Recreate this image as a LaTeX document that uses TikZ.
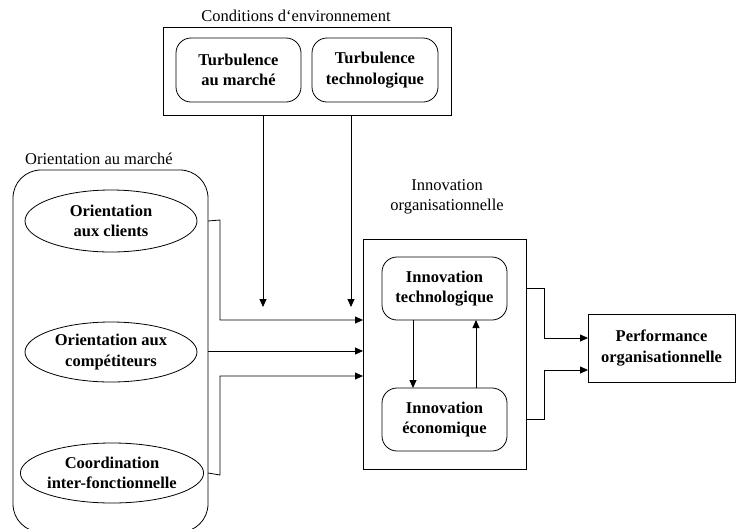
\documentclass[tikz,border=0pt]{standalone}
\usepackage{fontspec}
\setmainfont{Liberation Serif}
\usetikzlibrary{arrows.meta,shapes.geometric}
\begin{document}
\begin{tikzpicture}[x=1pt,y=-1pt,
  line width=0.8pt,
  every node/.style={inner sep=0pt, outer sep=0pt},
  txt/.style={font=\fontsize{16.5}{20}\selectfont, align=center},
  bld/.style={font=\fontsize{16.5}{20.5}\selectfont\bfseries, align=center},
  frame/.style={draw, rectangle},
  rbox/.style={draw, rectangle, rounded corners=15pt, bld},
  oval/.style={draw, ellipse, bld},
  arr/.style={-{Triangle[length=8pt,width=7pt]}}
]
\useasboundingbox (0,0) rectangle (736,528);

% environment conditions
\node[frame, minimum width=288, minimum height=88] (env) at (307,71) {};
\node[txt, anchor=base] (envlbl) at (296,21) {Conditions d‘environnement};
\node[rbox, minimum width=125, minimum height=64] (tm) at (238.5,70) {Turbulence\\au marché};
\node[rbox, minimum width=126, minimum height=64] (tt) at (375,70) {Turbulence\\technologique};

% market orientation
\node[draw, rectangle, rounded corners=28pt, minimum width=195, minimum height=362] (mkt) at (110.5,351) {};
\node[txt, anchor=base] (mktlbl) at (99,164) {Orientation au marché};
\node[oval, minimum width=172, minimum height=62] (oc) at (111,221) {Orientation\\aux clients};
\node[oval, minimum width=172, minimum height=60] (ocomp) at (111,352) {Orientation aux\\compétiteurs};
\node[oval, minimum width=170, minimum height=60] (coord) at (112,473) {Coordination\\inter-fonctionnelle};

% organisational innovation
\node[frame, minimum width=163, minimum height=230] (inno) at (444.5,354) {};
\node[txt, anchor=base] (innolbl) at (447,210) {Innovation\\organisationnelle};
\node[rbox, minimum width=125, minimum height=63] (it) at (444.5,288.5) {Innovation\\technologique};
\node[rbox, minimum width=125, minimum height=63] (ie) at (444.5,419.5) {Innovation\\économique};

% performance
\node[frame, bld, minimum width=147, minimum height=68] (perf) at (661.5,348) {Performance\\organisationnelle};

% free ends of the moderator arrows
\coordinate (m1) at (263,307);
\coordinate (m2) at (351,307);
\draw[arr] (env.south -| m1) -- (m1);
\draw[arr] (env.south -| m2) -- (m2);

% market orientation to innovation
\draw[arr] (mkt.east |- oc) -- (220,220) |- (inno.west |- 0,320);
\draw[arr] (mkt.east |- 0,351) -- (inno.west |- 0,351);
\draw[arr] (mkt.east |- coord) -- (220,475) |- (inno.west |- 0,376);

% between the two innovations
\draw[arr] ([xshift=-31.5pt]it.south) -- ([xshift=-31.5pt]ie.north);
\draw[arr] ([xshift=31.5pt]ie.north) -- ([xshift=31.5pt]it.south);

% innovation to performance
\draw[arr] (inno.east |- 0,288) -- (544,288) |- (perf.west |- 0,338);
\draw[arr] (inno.east |- 0,419) -- (544,419) |- (perf.west |- 0,370);
\end{tikzpicture}
\end{document}
